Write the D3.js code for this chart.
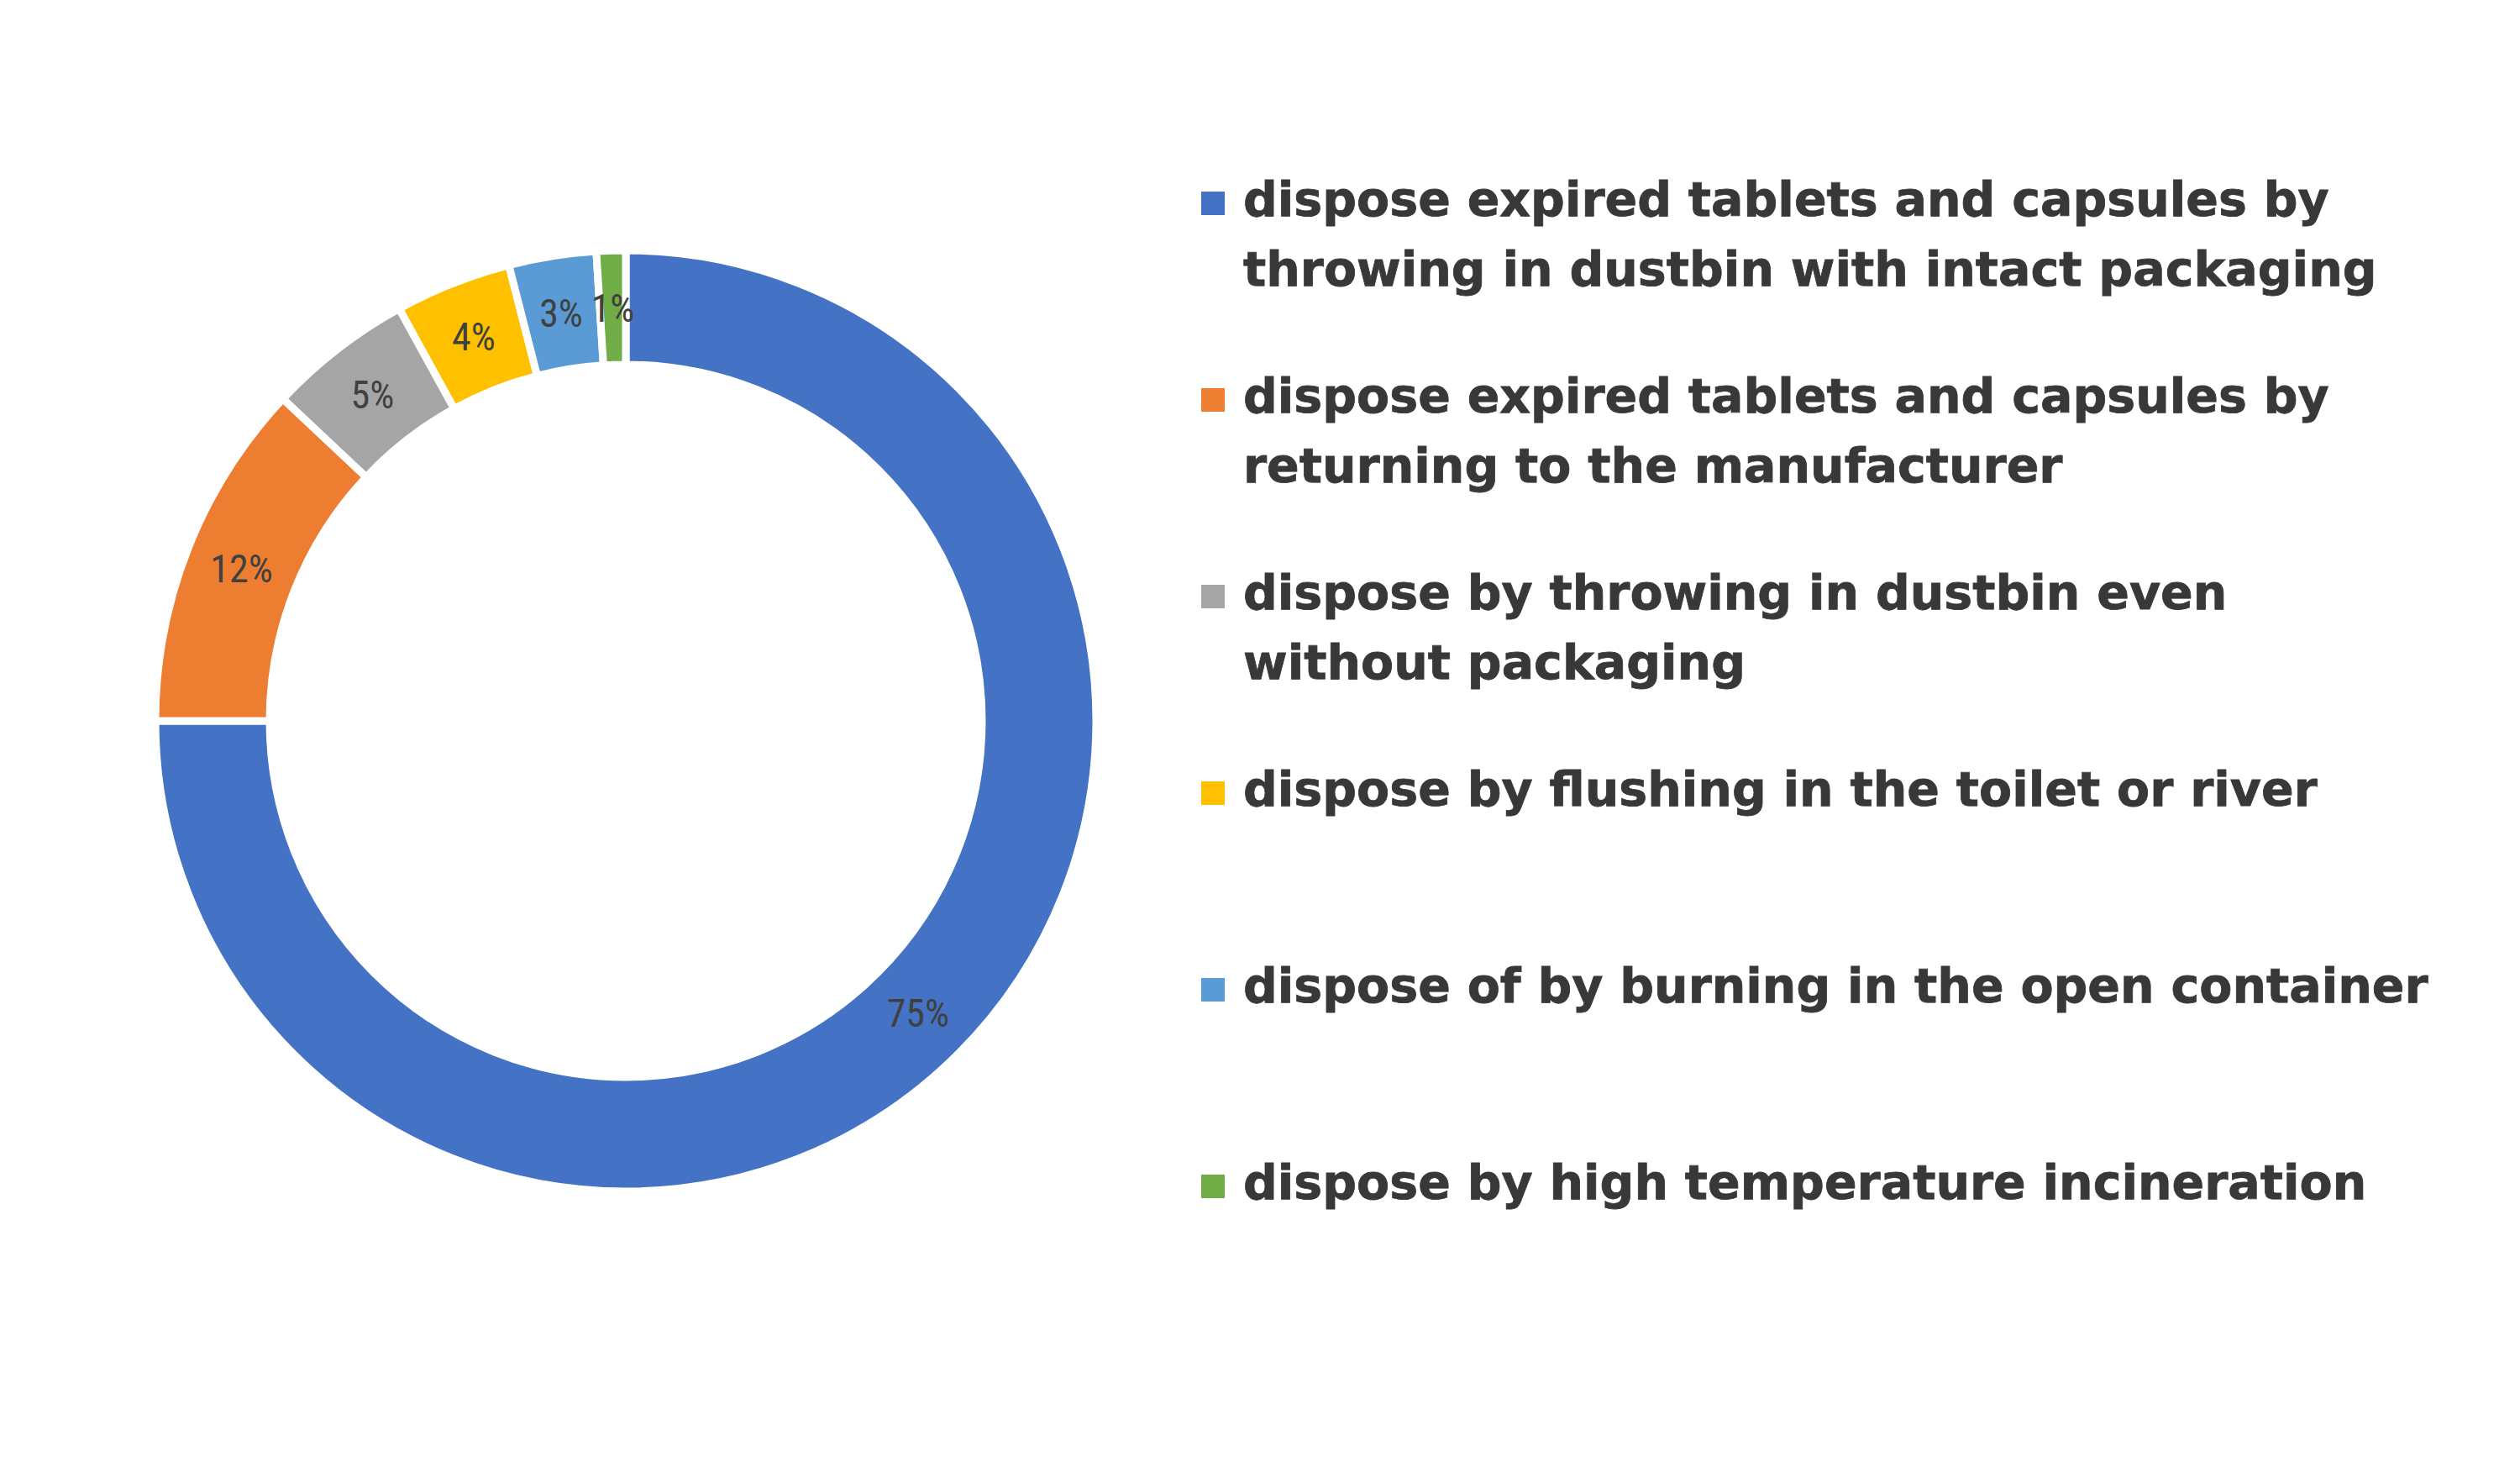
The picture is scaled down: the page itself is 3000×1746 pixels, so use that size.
<!DOCTYPE html>
<html>
<head>
<meta charset="utf-8">
<script src="https://cdn.jsdelivr.net/npm/d3@7"></script>
<style>
  html, body { margin: 0; padding: 0; background: #fff; }
</style>
</head>
<body>
<script>
(function () {
    'use strict';

    // categories (line breaks as in the picture)
    var categories = [
        'dispose expired tablets and capsules by\nthrowing in dustbin with intact packaging',
        'dispose expired tablets and capsules by\nreturning to the manufacturer',
        'dispose by throwing in dustbin even\nwithout packaging',
        'dispose by flushing in the toilet or river',
        'dispose of by burning in the open container',
        'dispose by high temperature incineration'
    ];
    var values = [75, 12, 5, 4, 3, 1];
    var colors = ['#4472C4', '#ED7D31', '#A5A5A5', '#FFC000', '#5B9BD5', '#70AD47'];

    var width = 3000, height = 1746;
    var cx = 745, cy = 858;
    var outerR = 560, innerR = 424;

    var svg = d3.select('body')
        .append('svg')
        .attr('width', width)
        .attr('height', height);

    svg.append('rect')
        .attr('width', width)
        .attr('height', height)
        .attr('fill', '#fff');

    var color = d3.scaleOrdinal()
        .domain(d3.range(values.length))
        .range(colors);

    var pie = d3.pie()
        .sort(null)
        .value(function (d) { return d; });

    var arc = d3.arc()
        .innerRadius(innerR)
        .outerRadius(outerR);

    var arcs = pie(values);
    var total = d3.sum(values);

    var g = svg.append('g')
        .attr('transform', 'translate(' + cx + ',' + cy + ')');

    g.selectAll('path')
        .data(arcs)
        .enter()
        .append('path')
        .attr('d', arc)
        .attr('fill', function (d, i) { return color(i); })
        .attr('stroke', '#fff')
        .attr('stroke-width', 9)
        .attr('stroke-linejoin', 'miter');

    g.selectAll('text.lbl')
        .data(arcs)
        .enter()
        .append('text')
        .attr('class', 'lbl')
        .attr('transform', function (d) {
            return 'translate(' + arc.centroid(d) + ')';
        })
        .attr('text-anchor', 'middle')
        .attr('dy', '0.36em')
        .attr('font-family', '"Liberation Sans Narrow", "Roboto Condensed", "Liberation Sans", sans-serif')
        .attr('font-size', 46)
        .attr('fill', '#404040')
        .text(function (d) {
            return Math.round(d.value / total * 100) + '%';
        });

    // legend
    var legX = 1430, legY = 257, legStep = 234, lineStep = 83;

    var leg = svg.append('g')
        .selectAll('g')
        .data(categories)
        .enter()
        .append('g')
        .attr('transform', function (d, i) {
            return 'translate(' + legX + ',' + (legY + i * legStep) + ')';
        });

    leg.append('rect')
        .attr('x', 0)
        .attr('y', -29)
        .attr('width', 28)
        .attr('height', 28)
        .attr('fill', function (d, i) { return color(i); });

    leg.append('text')
        .attr('x', 50)
        .attr('y', 0)
        .attr('font-family', '"DejaVu Sans", Verdana, sans-serif')
        .attr('font-weight', 'bold')
        .attr('font-size', 57)
        .attr('fill', '#383838')
        .attr('stroke', '#383838')
        .attr('stroke-width', 0.8)
        .selectAll('tspan')
        .data(function (d) { return d.split('\n'); })
        .enter()
        .append('tspan')
        .attr('x', 50)
        .attr('dy', function (d, i) { return i === 0 ? 0 : lineStep; })
        .text(function (d) { return d; });

}());
</script>
</body>
</html>
